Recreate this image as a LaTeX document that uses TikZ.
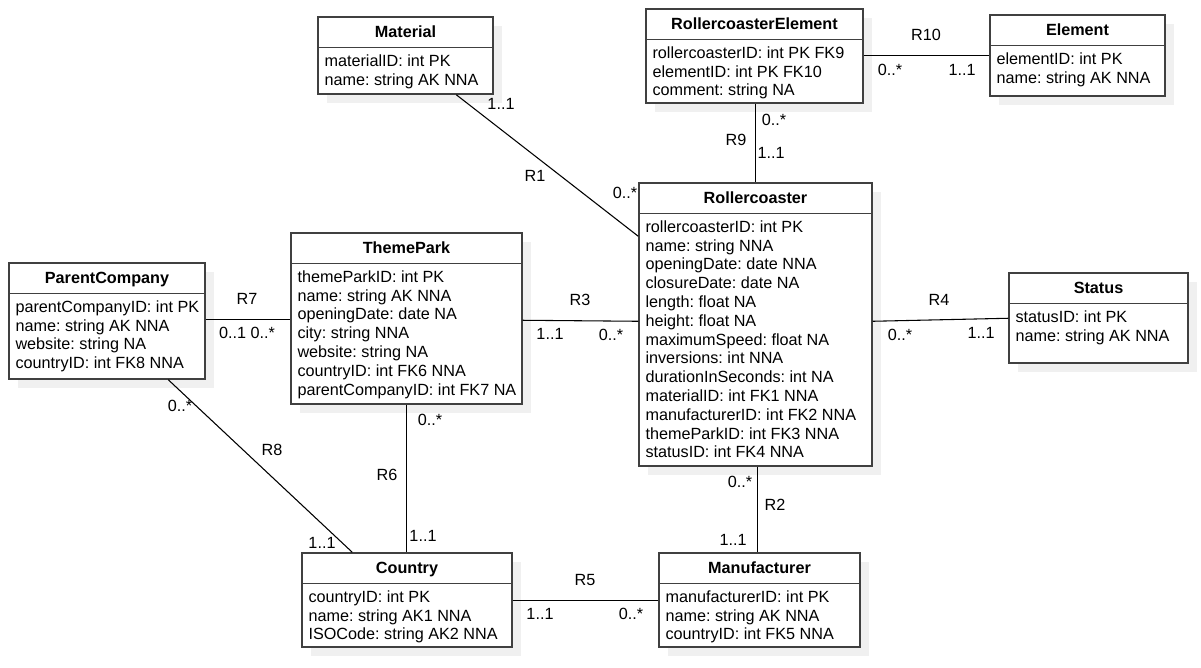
\documentclass[tikz,border=0pt]{standalone}
\usepackage{fontspec}
\setmainfont{Liberation Sans}
\usetikzlibrary{shadows}
\usetikzlibrary{positioning}
\usetikzlibrary{calc}
\usetikzlibrary{fit}
\frenchspacing

\begin{document}
\begin{tikzpicture}[x=0.75pt,y=-0.75pt]

\tikzstyle{entBox}=[rectangle,draw=black!75,line width=1.1pt,fill=white,inner sep=0pt,drop shadow={shadow xshift=7pt,shadow yshift=-7pt,fill=black!6,opacity=1}];
\tikzstyle{entLine}=[draw=black!75,line width=1.1pt];
\tikzstyle{entTitle}=[anchor=base,inner sep=0pt,font=\fontsize{12.15pt}{14.1pt}\selectfont\bfseries];
\tikzstyle{entAttr}=[anchor=north west,align=left,inner sep=0pt,font=\fontsize{12.15pt}{14.1pt}\selectfont];
\tikzstyle{relLine}=[draw=black,line width=0.8pt];
\tikzstyle{relLabel}=[inner sep=0pt,font=\fontsize{12.15pt}{14.1pt}\selectfont];

\useasboundingbox (0,0) rectangle (1201,667);

% entities
\node [entBox, fit={(318,17) (493,94)}] (material) {};
\draw [entLine] ($(material.north west)+(0,31)$) -- ($(material.north east)+(0,31)$);
\node [entTitle] (material-t) at ($(material.north)+(0,21)$) {Material};
\node [entAttr] (material-a) at ($(material.north west)+(7,38)$) {materialID: int PK\\name: string AK NNA};

\node [entBox, fit={(646,9) (863,103)}] (rcElement) {};
\draw [entLine] ($(rcElement.north west)+(0,31)$) -- ($(rcElement.north east)+(0,31)$);
\node [entTitle] (rcElement-t) at ($(rcElement.north)+(0,21)$) {RollercoasterElement};
\node [entAttr] (rcElement-a) at ($(rcElement.north west)+(7,38)$) {rollercoasterID: int PK FK9\\elementID: int PK FK10\\comment: string NA};

\node [entBox, fit={(990,15) (1165,96)}] (element) {};
\draw [entLine] ($(element.north west)+(0,31)$) -- ($(element.north east)+(0,31)$);
\node [entTitle] (element-t) at ($(element.north)+(0,21)$) {Element};
\node [entAttr] (element-a) at ($(element.north west)+(7,38)$) {elementID: int PK\\name: string AK NNA};

\node [entBox, fit={(639,183) (872,466)}] (rollercoaster) {};
\draw [entLine] ($(rollercoaster.north west)+(0,31)$) -- ($(rollercoaster.north east)+(0,31)$);
\node [entTitle] (rollercoaster-t) at ($(rollercoaster.north)+(0,21)$) {Rollercoaster};
\node [entAttr] (rollercoaster-a) at ($(rollercoaster.north west)+(7,38)$) {rollercoasterID: int PK\\name: string NNA\\openingDate: date NNA\\closureDate: date NA\\length: float NA\\height: float NA\\maximumSpeed: float NA\\inversions: int NNA\\durationInSeconds: int NA\\materialID: int FK1 NNA\\manufacturerID: int FK2 NNA\\themeParkID: int FK3 NNA\\statusID: int FK4 NNA};

\node [entBox, fit={(291,233) (522,404)}] (themePark) {};
\draw [entLine] ($(themePark.north west)+(0,31)$) -- ($(themePark.north east)+(0,31)$);
\node [entTitle] (themePark-t) at ($(themePark.north)+(0,21)$) {ThemePark};
\node [entAttr] (themePark-a) at ($(themePark.north west)+(7,38)$) {themeParkID: int PK\\name: string AK NNA\\openingDate: date NA\\city: string NNA\\website: string NA\\countryID: int FK6 NNA\\parentCompanyID: int FK7 NA};

\node [entBox, fit={(9,263) (205,379)}] (parentCompany) {};
\draw [entLine] ($(parentCompany.north west)+(0,31)$) -- ($(parentCompany.north east)+(0,31)$);
\node [entTitle] (parentCompany-t) at ($(parentCompany.north)+(0,21)$) {ParentCompany};
\node [entAttr] (parentCompany-a) at ($(parentCompany.north west)+(7,38)$) {parentCompanyID: int PK\\name: string AK NNA\\website: string NA\\countryID: int FK8 NNA};

\node [entBox, fit={(1009,273) (1188,363)}] (status) {};
\draw [entLine] ($(status.north west)+(0,31)$) -- ($(status.north east)+(0,31)$);
\node [entTitle] (status-t) at ($(status.north)+(0,21)$) {Status};
\node [entAttr] (status-a) at ($(status.north west)+(7,38)$) {statusID: int PK\\name: string AK NNA};

\node [entBox, fit={(302,553) (512,647)}] (country) {};
\draw [entLine] ($(country.north west)+(0,31)$) -- ($(country.north east)+(0,31)$);
\node [entTitle] (country-t) at ($(country.north)+(0,21)$) {Country};
\node [entAttr] (country-a) at ($(country.north west)+(7,38)$) {countryID: int PK\\name: string AK1 NNA\\ISOCode: string AK2 NNA};

\node [entBox, fit={(659,553) (860,647)}] (manufacturer) {};
\draw [entLine] ($(manufacturer.north west)+(0,31)$) -- ($(manufacturer.north east)+(0,31)$);
\node [entTitle] (manufacturer-t) at ($(manufacturer.north)+(0,21)$) {Manufacturer};
\node [entAttr] (manufacturer-a) at ($(manufacturer.north west)+(7,38)$) {manufacturerID: int PK\\name: string AK NNA\\countryID: int FK5 NNA};

% relations
\draw [relLine] ($(material.south west)+(139,0)$) -- ($(rollercoaster.north west)+(0,54)$);
\node [relLabel] (r1a) at (501,104) {1..1};
\node [relLabel] (r1) at (535,176) {R1};
\node [relLabel] (r1b) at (625,193) {0..*};

\draw [relLine] ($(rcElement.south west)+(110,0)$) -- ($(rollercoaster.north west)+(117,0)$);
\node [relLabel] (r9a) at (774,120) {0..*};
\node [relLabel] (r9) at (736,140) {R9};
\node [relLabel] (r9b) at (771,153) {1..1};

\draw [relLine] ($(rcElement.north east)+(0,47)$) -- ($(element.north west)+(0,41)$);
\node [relLabel] (r10) at (926,35) {R10};
\node [relLabel] (r10a) at (890,70) {0..*};
\node [relLabel] (r10b) at (962,70) {1..1};

\draw [relLine] ($(themePark.north east)+(0,88)$) -- ($(rollercoaster.north west)+(0,139)$);
\node [relLabel] (r3) at (580,300) {R3};
\node [relLabel] (r3a) at (550,334) {1..1};
\node [relLabel] (r3b) at (611,335) {0..*};

\draw [relLine] ($(rollercoaster.north east)+(0,139)$) -- ($(status.north west)+(0,46)$);
\node [relLabel] (r4) at (939,300) {R4};
\node [relLabel] (r4a) at (900,335) {0..*};
\node [relLabel] (r4b) at (981,333) {1..1};

\draw [relLine] ($(parentCompany.north east)+(0,57)$) -- ($(themePark.north west)+(0,87)$);
\node [relLabel] (r7) at (247,299) {R7};
\node [relLabel] (r7a) at (247,333) {0..1 0..*};

\draw [relLine] ($(parentCompany.south west)+(160,0)$) -- ($(country.north west)+(51,0)$);
\node [relLabel] (r8a) at (180,406) {0..*};
\node [relLabel] (r8) at (272,450) {R8};
\node [relLabel] (r8b) at (322,543) {1..1};

\draw [relLine] ($(themePark.south west)+(116,0)$) -- ($(country.north west)+(105,0)$);
\node [relLabel] (r6a) at (430,420) {0..*};
\node [relLabel] (r6) at (387,475) {R6};
\node [relLabel] (r6b) at (423,536) {1..1};

\draw [relLine] ($(rollercoaster.south west)+(119,0)$) -- ($(manufacturer.north west)+(99,0)$);
\node [relLabel] (r2a) at (740,482) {0..*};
\node [relLabel] (r2) at (775,505) {R2};
\node [relLabel] (r2b) at (733,540) {1..1};

\draw [relLine] ($(country.north east)+(0,48)$) -- ($(manufacturer.north west)+(0,48)$);
\node [relLabel] (r5) at (585,580) {R5};
\node [relLabel] (r5a) at (540,614) {1..1};
\node [relLabel] (r5b) at (631,614) {0..*};

\end{tikzpicture}
\end{document}
